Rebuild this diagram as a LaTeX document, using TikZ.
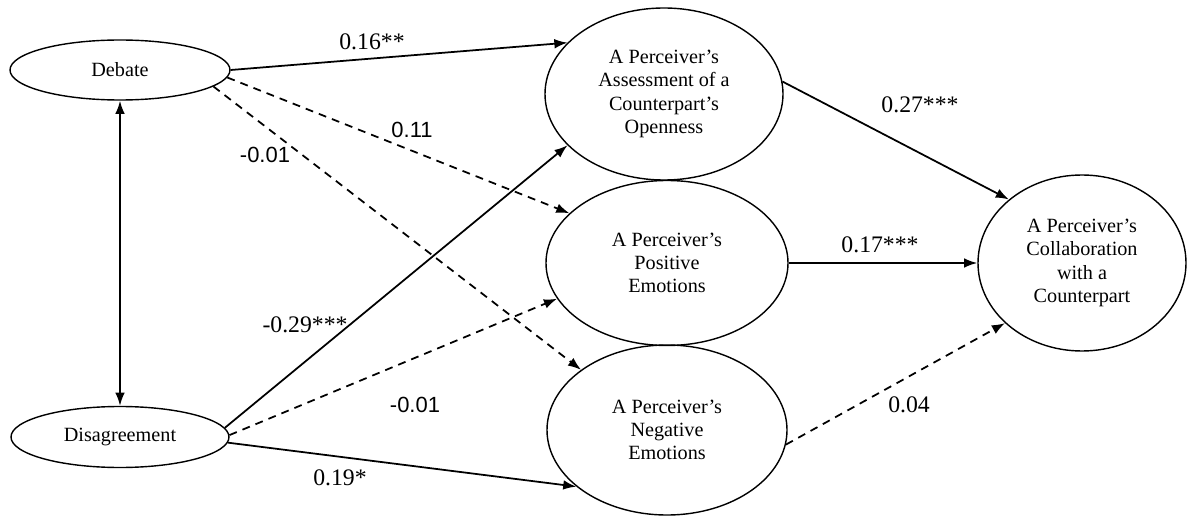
\documentclass[tikz,border=0pt]{standalone}
\usepackage{fontspec}
\setmainfont{Liberation Serif}
\newfontfamily\labsans{Liberation Sans}
\usepackage{tikz}
\usetikzlibrary{shapes,arrows.meta,positioning,calc}

\begin{document}
\begin{tikzpicture}[
    var/.style={draw, ellipse, line width=0.8pt, inner sep=0pt, align=center, font=\fontsize{11.5}{13.2}\selectfont},
    arr/.style={-{Latex[length=7.5pt, width=5.5pt]}, line width=1pt},
    darr/.style={arr, dash pattern=on 4.5pt off 3.5pt},
    coef/.style={font=\fontsize{13.5}{15}\selectfont},
    coefsans/.style={font=\labsans\fontsize{12.5}{14}\selectfont}
  ]
    \useasboundingbox (0,0) rectangle (23.78,10.5);

    \node[var, minimum width=4.4cm, minimum height=1.2cm]  (deb)  at (2.40, 9.10) {Debate};
    \node[var, minimum width=4.36cm, minimum height=1.22cm] (dis) at (2.40, 1.76) {Disagreement};

    \node[var, minimum width=4.76cm, minimum height=3.44cm] (open) at (13.28, 8.62) {A Perceiver's\\Assessment of a\\Counterpart's\\Openness};
    \node[var, minimum width=4.84cm, minimum height=3.3cm]  (pos)  at (13.34, 5.24) {A Perceiver's\\Positive\\Emotions};
    \node[var, minimum width=4.8cm, minimum height=3.4cm]   (neg)  at (13.34, 1.90) {A Perceiver's\\Negative\\Emotions};

    \node[var, minimum width=4.16cm, minimum height=3.52cm] (coll) at (21.64, 5.24) {A Perceiver's\\Collaboration\\with a\\Counterpart};

    \draw[arr, {Latex[length=7.5pt, width=5.5pt]}-{Latex[length=7.5pt, width=5.5pt]}] (deb) -- (dis);

    \draw[arr]  (deb.east) -- (open.152);
    \draw[darr] (deb.-4)   -- (pos.153);
    \draw[darr] (deb.-10)  -- (neg.145);
    \draw[arr]  (dis.5)    -- (open.208);
    \draw[darr] (dis.1)    -- (pos.198);
    \draw[arr]  (dis.-3)   -- (neg.212);

    \draw[arr]  (open.6)   -- (coll.139);
    \draw[arr]  (pos.east) -- (coll.west);
    \draw[darr] (neg.-7)   -- (coll.218);

    \node[coef]     (c1) at (7.44, 9.66) {0.16**};
    \node[coefsans] (c2) at (8.24, 7.90) {0.11};
    \node[coefsans] (c3) at (5.30, 7.40) {-0.01};
    \node[coef]     (c4) at (6.10, 4.00) {-0.29***};
    \node[coefsans] (c5) at (8.30, 2.40) {-0.01};
    \node[coef]     (c6) at (6.80, 0.94) {0.19*};
    \node[coef]     (c7) at (18.40, 8.40) {0.27***};
    \node[coef]     (c8) at (17.60, 5.60) {0.17***};
    \node[coef]     (c9) at (18.18, 2.40) {0.04};
  \end{tikzpicture}
\end{document}
